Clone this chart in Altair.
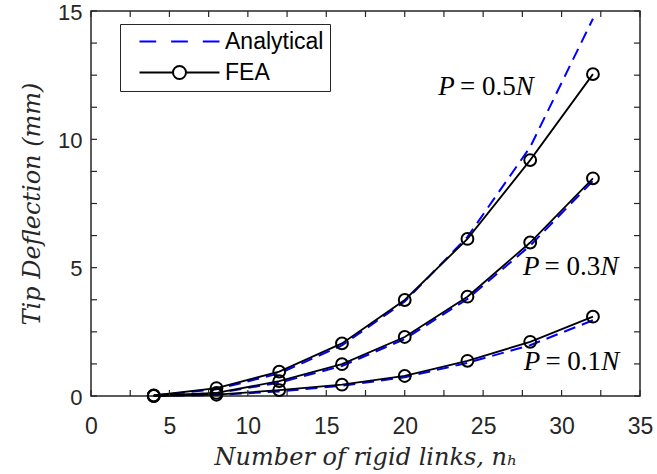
import altair as alt
import pandas as pd

# Number of rigid links used in the model
n_links = [4, 8, 12, 16, 20, 24, 28, 32]

# Tip deflection (mm) from finite element analysis
fea_05 = [0.02, 0.31, 0.95, 2.05, 3.74, 6.12, 9.19, 12.54]
fea_03 = [0.01, 0.12, 0.58, 1.24, 2.30, 3.87, 5.98, 8.48]
fea_01 = [0.00, 0.05, 0.23, 0.44, 0.78, 1.37, 2.11, 3.09]

# Tip deflection (mm) from the analytical model
ana_05 = [0.02, 0.26, 0.88, 1.97, 3.68, 6.20, 9.70, 14.70]
ana_03 = [0.01, 0.11, 0.52, 1.17, 2.22, 3.78, 5.86, 8.38]
ana_01 = [0.00, 0.04, 0.18, 0.40, 0.73, 1.29, 1.98, 2.95]

loads = ["0.5", "0.3", "0.1"]
series_names = ["Analytical", "FEA"]

# Load labels and where they sit (data units)
label_x = [25.55, 30.95, 31.0]
label_y = [12.05, 5.03, 1.32]

x_major = [0, 5, 10, 15, 20, 25, 30, 35]
y_major = [0, 5, 10, 15]
x_minor = [i * 2.5 for i in range(15)]
y_minor = [i * 1.25 for i in range(13)]

W, H = 549, 385
AXIS_COLOR = "#262626"
TICK_LEN = 6


def long_table(values_by_load, kind):
    rows = []
    for load, vals in zip(loads, values_by_load):
        for n, v in zip(n_links, vals):
            rows.append({"n": n, "delta": v, "load": load, "series": kind})
    return pd.DataFrame(rows)


fea_df = long_table([fea_05, fea_03, fea_01], "FEA")
ana_df = long_table([ana_05, ana_03, ana_01], "Analytical")
labels_df = pd.DataFrame({"x": label_x, "y": label_y, "load": loads})
labels_df["mid"] = "= " + labels_df["load"]

x_scale = alt.Scale(domain=[0, 35], nice=False, zero=False)
y_scale = alt.Scale(domain=[0, 15], nice=False, zero=False)

x_enc = alt.X(
    "n:Q",
    scale=x_scale,
    axis=alt.Axis(
        values=x_major,
        title="Number of rigid links, nₕ",
        format="d",
    ),
)
y_enc = alt.Y(
    "delta:Q",
    scale=y_scale,
    axis=alt.Axis(
        values=y_major,
        title="Tip Deflection (mm)",
        format="d",
    ),
)

analytical = (
    alt.Chart(ana_df)
    .mark_line(color="#0000ff", strokeWidth=2, strokeDash=[12, 7])
    .encode(x=x_enc, y=y_enc, detail="load:N", order="n:Q")
)

fea_line = (
    alt.Chart(fea_df)
    .mark_line(color="black", strokeWidth=1.8)
    .encode(x="n:Q", y="delta:Q", detail="load:N", order="n:Q")
)

fea_pts = (
    alt.Chart(fea_df)
    .mark_point(shape="circle", filled=False, color="black", size=140, strokeWidth=2, opacity=1)
    .encode(x="n:Q", y="delta:Q")
)

# Legend symbols: a dashed segment and a segment with a circle marker
dash_path = "M-8,0H-4.66M-1.67,0H1.67M4.66,0H8"
circle_path = (
    "M-8,0H-1.3M1.3,0H8M1.3,0A1.3,1.3 0 1,1 -1.3,0A1.3,1.3 0 1,1 1.3,0"
)
legend_df = pd.DataFrame({"series": series_names})
legend_layer = (
    alt.Chart(legend_df)
    .mark_point(filled=False, opacity=0, size=100, strokeWidth=2)
    .encode(
        color=alt.Color(
            "series:N",
            scale=alt.Scale(domain=series_names, range=["#0000ff", "#000000"]),
            legend=alt.Legend(title=None),
        ),
        shape=alt.Shape(
            "series:N",
            scale=alt.Scale(domain=series_names, range=[dash_path, circle_path]),
            legend=alt.Legend(title=None),
        ),
    )
)

LABEL_FONT = "Liberation Serif"
LABEL_SIZE = 27
text_p = (
    alt.Chart(labels_df)
    .mark_text(font=LABEL_FONT, fontSize=LABEL_SIZE, fontStyle="italic", align="right",
               baseline="middle", dx=-37, color="black")
    .encode(x="x:Q", y="y:Q", text=alt.value("P"))
)
text_mid = (
    alt.Chart(labels_df)
    .mark_text(font=LABEL_FONT, fontSize=LABEL_SIZE, align="center", baseline="middle",
               dx=-4, color="black")
    .encode(x="x:Q", y="y:Q", text="mid:N")
)
text_n = (
    alt.Chart(labels_df)
    .mark_text(font=LABEL_FONT, fontSize=LABEL_SIZE, fontStyle="italic", align="left",
               baseline="middle", dx=24, color="black")
    .encode(x="x:Q", y="y:Q", text=alt.value("N"))
)

# Inward ticks on all four sides of the box
xt = pd.DataFrame({"n": x_minor})
yt = pd.DataFrame({"delta": y_minor})
tick_style = dict(color=AXIS_COLOR, strokeWidth=1.2)
ticks_bottom = alt.Chart(xt).mark_rule(**tick_style).encode(
    x="n:Q", y=alt.value(H), y2=alt.value(H - TICK_LEN))
ticks_top = alt.Chart(xt).mark_rule(**tick_style).encode(
    x="n:Q", y=alt.value(0), y2=alt.value(TICK_LEN))
ticks_left = alt.Chart(yt).mark_rule(**tick_style).encode(
    y="delta:Q", x=alt.value(0), x2=alt.value(TICK_LEN))
ticks_right = alt.Chart(yt).mark_rule(**tick_style).encode(
    y="delta:Q", x=alt.value(W), x2=alt.value(W - TICK_LEN))

TITLE_FONT = "DejaVu Serif"

chart = (
    alt.layer(
        analytical, fea_line, fea_pts,
        ticks_bottom, ticks_top, ticks_left, ticks_right,
        text_p, text_mid, text_n, legend_layer,
    )
    .properties(
        width=W,
        height=H,
        autosize=alt.AutoSizeParams(type="none"),
        padding={"left": 91, "top": 11, "right": 17, "bottom": 78},
        background="white",
    )
    .configure_view(stroke=AXIS_COLOR, strokeWidth=1.5)
    .configure_axis(
        grid=False,
        ticks=False,
        tickSize=0,
        domain=False,
        labelFlush=False,
        labelOverlap=False,
        labelFont="Liberation Sans",
        labelFontSize=23,
        labelColor=AXIS_COLOR,
        titleFont=TITLE_FONT,
        titleFontStyle="italic",
        titleFontWeight="normal",
        titleFontSize=24,
        titleColor=AXIS_COLOR,
    )
    .configure_axisX(labelPadding=19, titlePadding=7)
    .configure_axisY(labelPadding=9, titlePadding=13, labelFontSize=22, labelOffset=1)
    .configure_legend(
        orient="none",
        legendX=29,
        legendY=13,
        strokeColor=AXIS_COLOR,
        fillColor="white",
        padding=6,
        labelFont="Liberation Sans",
        labelFontSize=23,
        labelColor="black",
        symbolOffset=42,
        labelOffset=34,
        rowPadding=7,
        symbolStrokeWidth=2,
        symbolOpacity=1,
        symbolSize=100,
    )
)

chart.save("out.html", embed_options={"renderer": "svg", "actions": False})
